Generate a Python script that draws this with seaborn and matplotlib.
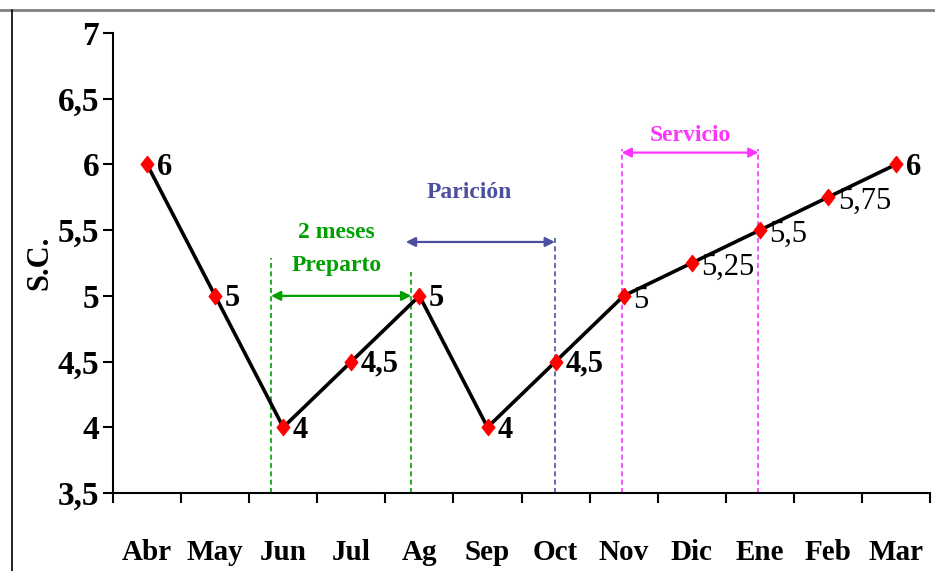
import numpy as np
import pandas as pd
import matplotlib
matplotlib.use("Agg")
import matplotlib.pyplot as plt
from matplotlib.lines import Line2D
import seaborn as sns

meses = ['Abr', 'May', 'Jun', 'Jul', 'Ag', 'Sep', 'Oct', 'Nov', 'Dic', 'Ene', 'Feb', 'Mar']
sc = [6, 5, 4, 4.5, 5, 4, 4.5, 5, 5.25, 5.5, 5.75, 6]
etiquetas = ['6', '5', '4', '4,5', '5', '4', '4,5', '5', '5,25', '5,5', '5,75', '6']
negrita = [True, True, True, True, True, True, True, False, False, False, False, True]
y_ticks = [3.5, 4, 4.5, 5, 5.5, 6, 6.5, 7]
y_labels = ['3,5', '4', '4,5', '5', '5,5', '6', '6,5', '7']

sns.set_style("white")
plt.rcParams['font.family'] = ['Liberation Serif', 'DejaVu Serif']
plt.rcParams['text.color'] = 'black'
plt.rcParams['axes.labelcolor'] = 'black'
plt.rcParams['xtick.color'] = 'black'
plt.rcParams['ytick.color'] = 'black'

df = pd.DataFrame({'mes': meses, 'sc': sc})

fig = plt.figure(figsize=(9.35, 5.71), dpi=100)
ax = fig.add_axes([0.1209, 0.1366, 0.8738, 0.8056])

# rombo un poco mas alto que ancho, como en el original
rombo = [(0, 1), (0.78, 0), (0, -1), (-0.78, 0), (0, 1)]
sns.lineplot(data=df, x='mes', y='sc', sort=False, color='black', lw=2.6,
             marker=rombo, markersize=12, markerfacecolor='red',
             markeredgecolor='red', ax=ax, zorder=5)

for i, (v, t, b) in enumerate(zip(sc, etiquetas, negrita)):
    ax.annotate(t, (i, v), xytext=(7, -2 if b else -3), textcoords='offset points',
                ha='left', va='center', fontsize=22,
                fontweight='bold' if b else 'normal', zorder=6)

ax.set_xlim(-0.5, 11.5)
ax.set_ylim(3.5, 7)
ax.set_yticks(y_ticks)
ax.set_yticklabels(y_labels, fontsize=24, fontweight='bold')
ax.set_xticks(range(len(meses)))
ax.set_xticklabels(meses, fontsize=21, fontweight='bold')
ax.set_xticks(np.arange(-0.5, 12, 1), minor=True)
ax.tick_params(axis='x', which='major', length=0, pad=33)
ax.tick_params(axis='x', which='minor', length=7, width=1.5, direction='out',
               bottom=True)
ax.tick_params(axis='y', length=7, width=1.5, direction='out', pad=3, left=True)
ax.set_xlabel('')
ax.set_ylabel('S.C.', fontsize=22, fontweight='bold', labelpad=2)

for s in ['top', 'right']:
    ax.spines[s].set_visible(False)
for s in ['left', 'bottom']:
    ax.spines[s].set_color('black')
    ax.spines[s].set_linewidth(1.5)

# periodos marcados
verde = '#00A000'
azul = '#4B4F9E'
magenta = '#FF33FF'

def periodo(x0, x1, y_flecha, lineas, color, lw=1.2):
    for x, top in lineas:
        ax.plot([x, x], [3.5, top], ls=(0, (3, 2)), color=color, lw=lw, zorder=2)
    ax.annotate('', xy=(x1, y_flecha), xytext=(x0, y_flecha),
                arrowprops=dict(arrowstyle='<|-|>', color=color, lw=1.6,
                                mutation_scale=14, shrinkA=0, shrinkB=0),
                zorder=3)

periodo(1.82, 3.88, 5.0, [(1.82, 5.29), (3.88, 5.18)], verde)
ax.text(2.78, 5.48, '2 meses', color=verde, fontsize=17, fontweight='bold',
        ha='center', va='center')
ax.text(2.78, 5.23, 'Preparto', color=verde, fontsize=17, fontweight='bold',
        ha='center', va='center')

periodo(3.8, 5.99, 5.41, [(5.99, 5.44)], azul)
ax.text(4.73, 5.79, 'Parición', color=azul, fontsize=17, fontweight='bold',
        ha='center', va='center')

periodo(6.97, 8.98, 6.09, [(6.97, 6.12), (8.98, 6.12)], magenta)
ax.text(7.98, 6.22, 'Servicio', color=magenta, fontsize=17, fontweight='bold',
        ha='center', va='center')

# marco de la figura
fig.add_artist(Line2D([0, 1], [1 - 10 / 571, 1 - 10 / 571], color='#808080',
                      lw=2, transform=fig.transFigure))
fig.add_artist(Line2D([12 / 935, 12 / 935], [0, 1 - 10 / 571], color='black',
                      lw=1.2, transform=fig.transFigure))

fig.savefig('out.png', dpi=100)
